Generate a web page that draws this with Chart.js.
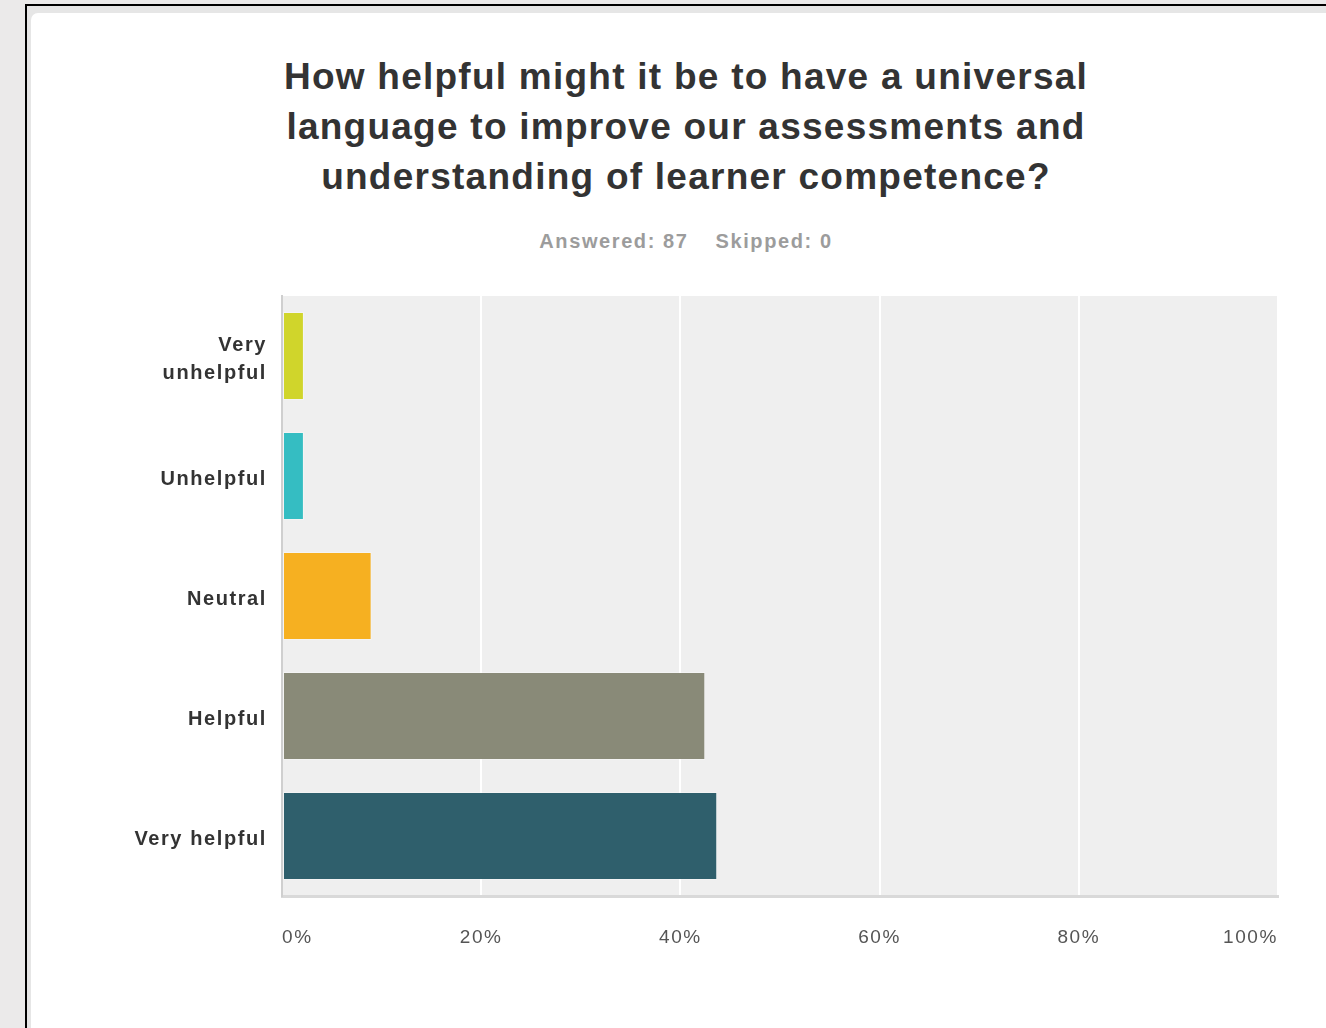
<!DOCTYPE html>
<html>
<head>
<meta charset="utf-8">
<title>Universal language survey</title>
<script src="https://cdn.jsdelivr.net/npm/chart.js@4.4.1/dist/chart.umd.min.js"></script>
<style>
    html, body {
        margin: 0;
        padding: 0;
        width: 1326px;
        height: 1028px;
        overflow: hidden;
        background: #ebeaea;
        font-family: "Liberation Sans", Arial, sans-serif;
    }
    #frame {
        position: absolute;
        left: 25px;
        top: 4px;
        width: 1400px;
        height: 1100px;
        border-left: 2px solid #000;
        border-top: 2px solid #000;
        background: #e6e6e6;
    }
    #card {
        position: absolute;
        left: 4px;
        top: 7px;
        right: 0;
        bottom: 0;
        background: #fff;
        border-radius: 7px 0 0 0;
    }
    #title {
        position: absolute;
        left: 186px;
        top: 52px;
        width: 1000px;
        text-align: center;
        font-weight: bold;
        font-size: 37px;
        letter-spacing: 1.25px;
        line-height: 50px;
        color: #333;
    }
    #subtitle {
        position: absolute;
        left: 386px;
        top: 230px;
        width: 600px;
        text-align: center;
        font-weight: bold;
        font-size: 20px;
        letter-spacing: 1.6px;
        color: #9c9c9c;
    }
    #subtitle span + span {
        margin-left: 27px;
    }
    #chart-wrap {
        position: absolute;
        left: 0;
        top: 0;
        width: 1326px;
        height: 1028px;
    }
</style>
</head>
<body>
<div id="frame"><div id="card"></div></div>
<div id="title">How helpful might it be to have a universal<br>language to improve our assessments and<br>understanding of learner competence?</div>
<div id="subtitle"><span>Answered: 87</span><span>Skipped: 0</span></div>
<div id="chart-wrap"><canvas id="surveyChart" width="1326" height="1028"></canvas></div>

<script>
const categories = [['Very', 'unhelpful'], 'Unhelpful', 'Neutral', 'Helpful', 'Very helpful'];
const percentages = [2.2, 2.2, 9.0, 42.5, 43.7];
const barColors = ['#d0d52b', '#35bdc2', '#f6b021', '#898a78', '#2f5f6c'];
const tickStep = 20;

const labelFont = '"Liberation Sans", Arial, sans-serif';

// grey panel behind the bars, plus the wider letter spacing for axis text
const plotBackground = {
    id: 'plotBackground',
    beforeDraw: function(chart) {
        const area = chart.chartArea;
        const ctx = chart.ctx;
        ctx.letterSpacing = '1.6px';
        ctx.save();
        ctx.fillStyle = '#efefef';
        ctx.fillRect(area.left, area.top, area.right - area.left, area.bottom - area.top);
        ctx.restore();
    }
};

// push the category labels down a few pixels so they sit level with the bars
function nudgeLabels(scale, dy) {
    if (scale._nudged) return;
    const drawLabels = scale.drawLabels;
    scale.drawLabels = function(area) {
        this.ctx.save();
        this.ctx.translate(0, dy);
        drawLabels.call(this, area);
        this.ctx.restore();
    };
    scale._nudged = true;
}

document.addEventListener('DOMContentLoaded', function() {
    const ctx = document.getElementById('surveyChart');
    new Chart(ctx, {
        type: 'bar',
        data: {
            labels: categories,
            datasets: [{
                data: percentages,
                backgroundColor: barColors,
                borderColor: 'rgba(255, 255, 255, 0.35)',
                borderWidth: 1,
                borderSkipped: false,
                barPercentage: 0.733,
                categoryPercentage: 1.0
            }]
        },
        options: {
            indexAxis: 'y',
            responsive: false,
            animation: false,
            layout: {
                padding: { left: 0, right: 48, top: 296, bottom: 72 }
            },
            plugins: {
                legend: { display: false },
                tooltip: { enabled: false }
            },
            scales: {
                x: {
                    min: 0,
                    max: 100,
                    afterFit: function(scale) { scale.height = 60; },
                    ticks: {
                        stepSize: tickStep,
                        align: 'inner',
                        padding: 30,
                        color: '#555',
                        font: { family: labelFont, size: 19 },
                        callback: function(value) { return value + '%'; }
                    },
                    grid: {
                        color: '#ffffff',
                        lineWidth: 2,
                        drawTicks: false
                    },
                    border: { color: '#d9d9d9', width: 3 }
                },
                y: {
                    afterFit: function(scale) {
                        scale.width = 282;
                        nudgeLabels(scale, 3);
                    },
                    ticks: {
                        padding: 15,
                        color: '#333',
                        font: { family: labelFont, size: 20, weight: 'bold', lineHeight: 1.4 }
                    },
                    grid: { display: false, drawTicks: false },
                    border: { color: '#cfcfcf', width: 2 }
                }
            }
        },
        plugins: [plotBackground]
    });
});
</script>
</body>
</html>
